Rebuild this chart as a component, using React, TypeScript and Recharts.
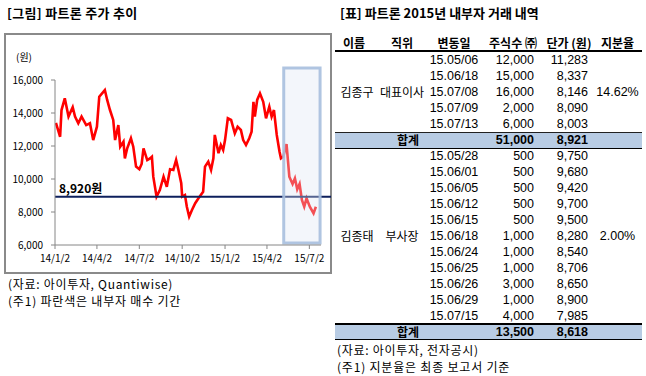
import { LineChart, Line, XAxis, YAxis, ReferenceLine, ReferenceArea } from "recharts";

const FONT = "'Noto Sans CJK KR', 'Noto Sans', sans-serif";
const NUM_FONT = "'Liberation Sans', Arial, sans-serif";

// 파트론 주가 (원), 그림에서 읽은 값
const DATES = [
  "2014-01-04", "2014-01-13", "2014-01-16", "2014-01-23", "2014-01-31", "2014-02-09", "2014-02-14",
  "2014-02-21", "2014-02-28", "2014-03-10", "2014-03-18", "2014-03-25", "2014-04-02", "2014-04-07",
  "2014-04-19", "2014-04-24", "2014-04-30", "2014-05-07", "2014-05-11", "2014-05-18", "2014-05-22",
  "2014-05-29", "2014-06-01", "2014-06-06", "2014-06-14", "2014-06-19", "2014-06-25", "2014-07-02",
  "2014-07-07", "2014-07-11", "2014-07-19", "2014-07-25", "2014-07-29", "2014-08-01", "2014-08-08",
  "2014-08-15", "2014-08-23", "2014-08-30", "2014-09-06", "2014-09-13", "2014-09-19", "2014-09-24",
  "2014-09-30", "2014-10-02", "2014-10-08", "2014-10-12", "2014-10-17", "2014-10-23", "2014-10-30",
  "2014-11-06", "2014-11-11", "2014-11-16", "2014-11-20", "2014-11-27", "2014-12-03", "2014-12-08",
  "2014-12-11", "2014-12-19", "2014-12-24", "2014-12-29", "2015-01-02", "2015-01-08", "2015-01-15",
  "2015-01-23", "2015-01-29", "2015-02-05", "2015-02-10", "2015-02-16", "2015-02-23", "2015-02-28",
  "2015-03-04", "2015-03-07", "2015-03-12", "2015-03-18", "2015-03-25", "2015-03-31", "2015-04-07",
  "2015-04-12", "2015-04-17", "2015-04-23", "2015-04-29", "2015-05-02", "2015-05-07", "2015-05-14",
  "2015-05-20", "2015-05-27", "2015-06-01", "2015-06-06", "2015-06-11", "2015-06-16", "2015-06-21",
  "2015-06-26", "2015-07-03", "2015-07-11", "2015-07-16",
];
const PRICES = [
  13400, 12560, 14180, 14890, 13780, 14350, 13780,
  13380, 13780, 13270, 13380, 12360, 13170, 14990,
  15390, 14790, 14180, 13580, 12360, 13270, 11960,
  12260, 11250, 11860, 12470, 11960, 10750, 10590,
  10910, 11860, 11150, 11250, 11350, 10140, 8930,
  9330, 10140, 9530, 10590, 10550, 11150, 10550,
  9740, 8930, 9030, 8320, 7720, 8120, 8530,
  8830, 9030, 9230, 10750, 11050, 10550, 11250,
  12670, 11560, 12060, 11760, 12360, 13680, 13580,
  12770, 13170, 12970, 12360, 12060, 12470, 12870,
  14680, 13780, 14790, 15190, 14680, 13680, 14380,
  13780, 14180, 12670, 11650, 11250, 11350, 12120,
  10140, 9700, 10040, 9380, 9700, 8730, 8320,
  8830, 8320, 7920, 8320,
];

const X_TICK_DATES = ["2014-01-02", "2014-04-02", "2014-07-02", "2014-10-02", "2015-01-02", "2015-04-02", "2015-07-02"];
const X_TICK_LABELS = ["14/1/2", "14/4/2", "14/7/2", "14/10/2", "15/1/2", "15/4/2", "15/7/2"];
const Y_TICKS = [6000, 8000, 10000, 12000, 14000, 16000];

const AVG_PRICE = 8920;
const BUY_BOX_START = "2015-05-08";
const BUY_BOX_END = "2015-07-25";
const BUY_BOX_LOW = 6120;
const BUY_BOX_HIGH = 16730;

// 내부자 거래 내역
const JG_DATES = ["15.05/06", "15.06/18", "15.07/08", "15.07/09", "15.07/13"];
const JG_SHARES = [12000, 15000, 16000, 2000, 6000];
const JG_PRICES = [11283, 8337, 8146, 8090, 8003];
const JT_DATES = ["15.05/28", "15.06/01", "15.06/05", "15.06/12", "15.06/15", "15.06/18", "15.06/24", "15.06/25", "15.06/26", "15.06/29", "15.07/15"];
const JT_SHARES = [500, 500, 500, 500, 500, 1000, 1000, 1000, 3000, 1000, 4000];
const JT_PRICES = [9750, 9680, 9420, 9700, 9500, 8280, 8540, 8706, 8650, 8900, 7985];

const BASE = Date.UTC(2014, 0, 2);
function dayOf(date: string) {
  const [y, m, d] = date.split("-").map(Number);
  return Math.round((Date.UTC(y, m - 1, d) - BASE) / 86400000);
}

const fmt = (v: number) => v.toLocaleString("en-US");

const data = DATES.map((d, i) => ({ day: dayOf(d), price: PRICES[i] }));
const xTicks = X_TICK_DATES.map(dayOf);

// table columns: [left, width]
const COL_NAME = [336, 42];
const COL_POS = [378, 48];
const COL_DATE = [428, 52];
const COL_SHARES = [482, 52];
const COL_PRICE = [536, 52];
const COL_RATIO = [595, 45];

function T({ x, y, w, text, align = "left", bold = false, size = 12, spacing = 0, num = false }: {
  x: number; y: number; w: number; text: string; align?: "left" | "center" | "right";
  bold?: boolean; size?: number; spacing?: number; num?: boolean;
}) {
  // y is the vertical centre of the text line
  return (
    <div
      style={{
        position: "absolute",
        left: x,
        top: y - 8,
        width: w,
        height: 16,
        lineHeight: "16px",
        fontSize: size,
        fontFamily: num ? NUM_FONT : FONT,
        fontWeight: bold ? 700 : 400,
        letterSpacing: spacing,
        textAlign: align,
        whiteSpace: "nowrap",
        color: "#000",
      }}
    >
      {text}
    </div>
  );
}

function TradeRows({ top, dates, shares, prices }: { top: number; dates: string[]; shares: number[]; prices: number[] }) {
  return (
    <>
      {dates.map((d, i) => {
        const cy = top + 8 + i * 16;
        return (
          <div key={d}>
            <T x={COL_DATE[0]} y={cy} w={COL_DATE[1]} text={d} align="center" size={12.5} num />
            <T x={COL_SHARES[0]} y={cy} w={COL_SHARES[1]} text={fmt(shares[i])} align="right" size={12.5} num />
            <T x={COL_PRICE[0]} y={cy} w={COL_PRICE[1]} text={fmt(prices[i])} align="right" size={12.5} num />
          </div>
        );
      })}
    </>
  );
}

function PriceChart() {
  return (
    <LineChart width={326} height={239} data={data} margin={{ top: 46, right: 10, bottom: 8, left: 0 }}>
      <XAxis
        dataKey="day"
        type="number"
        domain={[0, 571]}
        ticks={xTicks}
        tickFormatter={(v) => X_TICK_LABELS[xTicks.indexOf(v)] ?? ""}
        height={20}
        tickSize={4}
        tickMargin={6}
        stroke="#868686"
        tick={{ fontSize: 10, fill: "#000", fontFamily: FONT }}
        interval={0}
        allowDataOverflow
      />
      <YAxis
        type="number"
        domain={[6000, 16000]}
        ticks={Y_TICKS}
        tickFormatter={fmt}
        width={50}
        tickSize={4}
        tickMargin={8}
        stroke="#868686"
        tick={{ fontSize: 10, fill: "#000", fontFamily: FONT }}
        interval={0}
      />
      <Line
        dataKey="price"
        stroke="#ff0000"
        strokeWidth={2.6}
        dot={false}
        isAnimationActive={false}
      />
      <ReferenceLine
        segment={[{ x: 0, y: AVG_PRICE }, { x: 593, y: AVG_PRICE }]}
        ifOverflow="visible"
        stroke="#0d1f5c"
        strokeWidth={2}
        label={(props: any) => {
          const vb = props.viewBox || {};
          return (
            <text x={(vb.x ?? 50) + 4} y={(vb.y ?? 0) - 4} fontSize={12} fontWeight={700} fontFamily={FONT} fill="#000">
              8,920원
            </text>
          );
        }}
      />
      <ReferenceArea
        x1={dayOf(BUY_BOX_START)}
        x2={dayOf(BUY_BOX_END)}
        y1={BUY_BOX_LOW}
        y2={BUY_BOX_HIGH}
        ifOverflow="visible"
        fill="#dce6f4"
        fillOpacity={0.35}
        stroke="#a7bfde"
        strokeOpacity={0.9}
        strokeWidth={3}
        zIndex={450}
      />
    </LineChart>
  );
}

export default function App() {
  return (
    <div style={{ position: "absolute", left: 0, top: 0, width: 646, height: 376, background: "#fff", fontFamily: FONT, overflow: "hidden" }}>
      {/* left: chart */}
      <T x={7} y={13} w={220} text="[그림] 파트론 주가 추이" bold size={13} spacing={0.3} />
      <div style={{ position: "absolute", left: 4, top: 33, width: 328, height: 241, border: "2px solid #8a8a8a", boxSizing: "border-box" }} />
      <div style={{ position: "absolute", left: 5, top: 34 }}>
        <PriceChart />
      </div>
      <T x={16} y={57} w={24} text="(원)" size={10} />
      <T x={8} y={283.5} w={320} text="(자료: 아이투자, Quantiwise)" size={12} spacing={0.7} />
      <T x={8} y={301} w={320} text="(주1) 파란색은 내부자 매수 기간" size={12} spacing={0.8} />

      {/* right: table */}
      <T x={340} y={13} w={300} text="[표] 파트론 2015년 내부자 거래 내역" bold size={13} />
      <T x={COL_NAME[0] - 3} y={43} w={COL_NAME[1]} text="이름" align="center" bold />
      <T x={COL_POS[0]} y={43} w={COL_POS[1]} text="직위" align="center" bold />
      <T x={COL_DATE[0]} y={43} w={COL_DATE[1]} text="변동일" align="center" bold />
      <T x={482} y={43} w={62} text="주식수 ㈜" align="center" bold />
      <T x={544} y={43} w={50} text="단가 (원)" align="center" bold />
      <T x={COL_RATIO[0]} y={43} w={COL_RATIO[1]} text="지분율" align="center" bold />
      <div style={{ position: "absolute", left: 335, top: 50, width: 307, height: 2, background: "#000" }} />

      <TradeRows top={52} dates={JG_DATES} shares={JG_SHARES} prices={JG_PRICES} />
      <T x={COL_NAME[0]} y={92} w={COL_NAME[1]} text="김종구" align="center" />
      <T x={COL_POS[0]} y={92} w={COL_POS[1]} text="대표이사" align="center" />
      <T x={COL_RATIO[0]} y={92} w={COL_RATIO[1]} text="14.62%" align="center" size={12.5} num />

      <div style={{ position: "absolute", left: 335, top: 132, width: 307, height: 15, background: "#b8cce4", borderTop: "1px solid #222", borderBottom: "1px solid #000" }} />
      <T x={390} y={140} w={36} text="합계" align="center" bold />
      <T x={COL_SHARES[0]} y={140} w={COL_SHARES[1]} text="51,000" align="right" bold size={12.5} num />
      <T x={COL_PRICE[0]} y={140} w={COL_PRICE[1]} text="8,921" align="right" bold size={12.5} num />

      <TradeRows top={148} dates={JT_DATES} shares={JT_SHARES} prices={JT_PRICES} />
      <T x={COL_NAME[0]} y={236} w={COL_NAME[1]} text="김종태" align="center" />
      <T x={COL_POS[0]} y={236} w={COL_POS[1]} text="부사장" align="center" />
      <T x={COL_RATIO[0]} y={236} w={COL_RATIO[1]} text="2.00%" align="center" size={12.5} num />

      <div style={{ position: "absolute", left: 335, top: 323, width: 307, height: 2, background: "#000" }} />
      <div style={{ position: "absolute", left: 335, top: 325, width: 307, height: 14, background: "#b8cce4", borderBottom: "1px solid #000" }} />
      <T x={390} y={332} w={36} text="합계" align="center" bold />
      <T x={COL_SHARES[0]} y={332} w={COL_SHARES[1]} text="13,500" align="right" bold size={12.5} num />
      <T x={COL_PRICE[0]} y={332} w={COL_PRICE[1]} text="8,618" align="right" bold size={12.5} num />

      <T x={337} y={349.5} w={300} text="(자료: 아이투자, 전자공시)" size={12} spacing={0.7} />
      <T x={337} y={367} w={300} text="(주1) 지분율은 최종 보고서 기준" size={12} spacing={0.8} />
    </div>
  );
}
